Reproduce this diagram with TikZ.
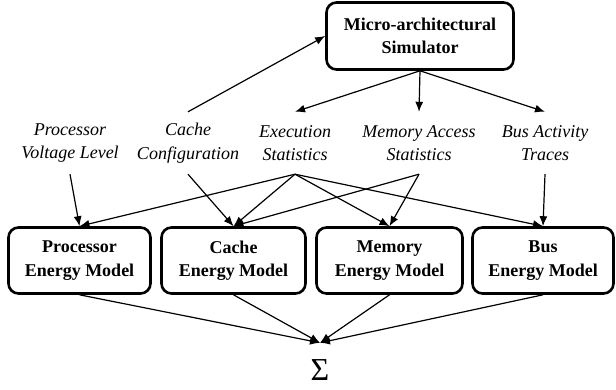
\documentclass[tikz,border=0pt]{standalone}
\usepackage{fontspec}
\setmainfont{Liberation Serif}
\usetikzlibrary{arrows.meta}
\begin{document}
\begin{tikzpicture}[x=1pt,y=-1pt,
  model/.style={draw, line width=2.6pt, rounded corners=10pt, align=center,
    font=\fontsize{18}{23.5}\selectfont\bfseries, inner sep=0pt},
  lbl/.style={align=center, font=\fontsize{18}{23.5}\selectfont\itshape,
    inner sep=0pt, minimum height=62pt},
  arr/.style={-{Latex[length=10pt,width=8pt]}, line width=1.2pt}]
\useasboundingbox (0,0) rectangle (616,389);

\node[model, minimum width=187pt, minimum height=67pt] (sim) at (420,36) {Micro-architectural\\Simulator};

\node[lbl] (pvl) at (70,143) {Processor\\Voltage Level};
\node[lbl] (cc) at (188,143) {Cache\\Configuration};
\node[lbl] (es) at (295,143) {Execution\\Statistics};
\node[lbl] (mas) at (419,143) {Memory Access\\Statistics};
\node[lbl] (bat) at (545,143) {Bus Activity\\Traces};

\node[model, minimum width=142pt, minimum height=66pt] (pm) at (79.5,260.5) {Processor\\Energy Model};
\node[model, minimum width=144pt, minimum height=66pt] (cm) at (233.5,260.5) {Cache\\Energy Model};
\node[model, minimum width=146pt, minimum height=66pt] (mm) at (389.5,260.5) {Memory\\Energy Model};
\node[model, minimum width=141pt, minimum height=66pt] (bm) at (543,260.5) {Bus\\Energy Model};

\node[font=\fontsize{32}{32}\selectfont, inner sep=0pt, minimum height=55pt] (sum) at (320,370.5) {Σ};

\draw[arr] (sim.south) -- (es.north);
\draw[arr] (sim.south) -- (mas.north);
\draw[arr] (sim.south) -- (bat.north);
\draw[arr] (cc.north) -- (sim.west);

\draw[arr] (pvl.south) -- (pm.north);
\draw[arr] (cc.south) -- (cm.north);
\draw[arr] (es.south) -- (pm.north);
\draw[arr] (es.south) -- (cm.north);
\draw[arr] (es.south) -- (mm.north);
\draw[arr] (es.south) -- (bm.north);
\draw[arr] (mas.south) -- (cm.north);
\draw[arr] (mas.south) -- (mm.north);
\draw[arr] (bat.south) -- (bm.north);

\draw[arr] (pm.south) -- (sum.north);
\draw[arr] (cm.south) -- (sum.north);
\draw[arr] (mm.south) -- (sum.north);
\draw[arr] (bm.south) -- (sum.north);
\end{tikzpicture}
\end{document}
